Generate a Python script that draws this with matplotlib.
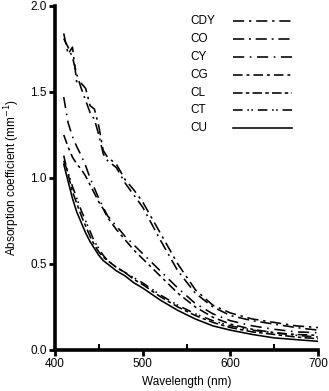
import matplotlib
matplotlib.use('Agg')
import matplotlib.pyplot as plt
from matplotlib.ticker import MultipleLocator, FormatStrFormatter

plt.rcParams['font.family'] = ['Liberation Sans', 'DejaVu Sans']

wavelength = [410, 415, 420, 425, 430, 435, 440, 445, 450, 455, 460, 470,
              480, 490, 500, 520, 540, 560, 580, 600, 625, 650, 675, 700]

cdy = [1.84, 1.72, 1.76, 1.55, 1.55, 1.52, 1.42, 1.40, 1.30, 1.16, 1.12, 1.08,
       0.99, 0.93, 0.86, 0.68, 0.50, 0.35, 0.26, 0.215, 0.18, 0.16, 0.14, 0.13]
co = [1.81, 1.76, 1.70, 1.60, 1.52, 1.45, 1.38, 1.34, 1.25, 1.14, 1.10, 1.06,
      0.97, 0.90, 0.83, 0.64, 0.46, 0.33, 0.25, 0.20, 0.17, 0.15, 0.13, 0.115]
cy = [1.47, 1.32, 1.24, 1.18, 1.13, 1.07, 1.00, 0.94, 0.88, 0.83, 0.78, 0.72,
      0.66, 0.61, 0.56, 0.46, 0.36, 0.27, 0.21, 0.17, 0.14, 0.12, 0.105, 0.10]
cg = [1.25, 1.18, 1.12, 1.08, 1.05, 1.01, 0.96, 0.91, 0.86, 0.82, 0.77, 0.70,
      0.64, 0.58, 0.53, 0.43, 0.33, 0.25, 0.19, 0.15, 0.12, 0.10, 0.09, 0.085]
cl = [1.13, 1.02, 0.92, 0.85, 0.78, 0.72, 0.66, 0.61, 0.57, 0.54, 0.52, 0.48,
      0.45, 0.41, 0.38, 0.31, 0.25, 0.20, 0.16, 0.13, 0.105, 0.09, 0.075, 0.065]
ct = [1.10, 1.03, 0.95, 0.88, 0.81, 0.75, 0.69, 0.63, 0.59, 0.55, 0.52, 0.48,
      0.45, 0.42, 0.39, 0.32, 0.26, 0.21, 0.17, 0.14, 0.115, 0.10, 0.085, 0.075]
cu = [1.08, 0.98, 0.88, 0.80, 0.74, 0.68, 0.63, 0.59, 0.55, 0.52, 0.50, 0.46,
      0.43, 0.39, 0.36, 0.29, 0.23, 0.18, 0.14, 0.115, 0.09, 0.07, 0.06, 0.05]

labels = ['CDY', 'CO', 'CY', 'CG', 'CL', 'CT', 'CU']
series = [cdy, co, cy, cg, cl, ct, cu]
styles = [(0, (7, 3, 1.5, 3)),
          (0, (7, 3, 1.2, 3)),
          (0, (7, 3.5, 1, 3.5)),
          (0, (6, 2.5, 1.8, 2.5)),
          (0, (6, 2, 2.2, 2)),
          (0, (6, 3, 1, 1.5, 1, 3)),
          '-']

fig = plt.figure(figsize=(3.29, 3.91), dpi=100)
ax = fig.add_axes([0.167, 0.105, 0.80, 0.88])

for y, lab, ls in zip(series, labels, styles):
    ax.plot(wavelength, y, color='black', linestyle=ls, linewidth=1.15, label=lab)

ax.set_xlim(400, 700)
ax.set_ylim(0, 2.0)
ax.xaxis.set_major_locator(MultipleLocator(100))
ax.xaxis.set_minor_locator(MultipleLocator(50))
ax.yaxis.set_major_locator(MultipleLocator(0.5))
ax.yaxis.set_major_formatter(FormatStrFormatter('%.1f'))

for side in ['top', 'right']:
    ax.spines[side].set_visible(False)
for side in ['left', 'bottom']:
    ax.spines[side].set_linewidth(2.6)

ax.tick_params(which='major', direction='out', length=4, width=2, labelsize=8.5, pad=2)
ax.tick_params(axis='x', which='minor', direction='in', length=4, width=1.5)

ax.set_xlabel('Wavelength (nm)', fontsize=8.5, labelpad=4)
ax.set_ylabel('Absorption coefficient (mm$^{-1}$)', fontsize=8.5, labelpad=6)

# key: labels left-aligned, line samples to their right
key_top = 0.955
key_step = 0.0518
for i, (lab, ls) in enumerate(zip(labels, styles)):
    ky = key_top - i * key_step
    ax.text(0.513, ky, lab, transform=ax.transAxes, fontsize=8.5,
            ha='left', va='center')
    ax.plot([0.676, 0.90], [ky, ky], transform=ax.transAxes, color='black',
            linestyle=ls, linewidth=1.15, clip_on=False)

fig.savefig('out.png', dpi=100)
